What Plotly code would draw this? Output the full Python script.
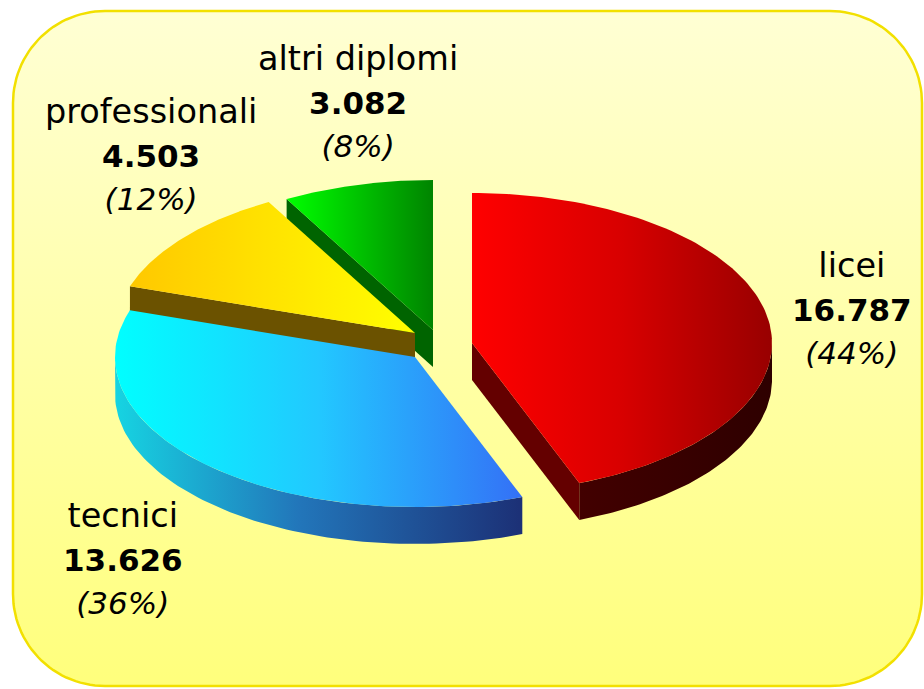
import numpy as np
import plotly.graph_objects as go

# ---------------- data ----------------
categories = ["licei", "tecnici", "professionali", "altri diplomi"]
values = [16787, 13626, 4503, 3082]

# ---------------- style ----------------
W, H = 924, 689
CX, CY = 415, 357          # base centre of the pie top face (px)
RX, RY = 300, 150          # ellipse radii (px)
DEPTH = 37                 # thickness of the pie (px)
EXPLODE = [(57, -14), (0, 0), (0, -24), (18, -27)]   # per-slice offsets (px)

TOP_SCALES = [
    [[0, "#ff0000"], [0.5, "#d80000"], [1, "#980000"]],
    [[0, "#00ffff"], [0.5, "#22c8ff"], [1, "#3470f6"]],
    [[0, "#ffc800"], [1, "#ffff00"]],
    [[0, "#00ff00"], [1, "#008400"]],
]
WALL_SCALES = [
    [[0, "#420000"], [1, "#2e0000"]],
    [[0, "#16d4e2"], [0.45, "#2276ba"], [1, "#1c3076"]],
    [[0, "#6b5200"], [1, "#6b5200"]],
    [[0, "#006400"], [1, "#006400"]],
]
RADIAL_COLORS = ["#640000", "#1c3076", "#6b5200", "#006400"]

LABEL_POS = [(852, 308), (123, 558), (151, 154), (358, 101)]
FONT = "DejaVu Sans"

# ---------------- geometry helpers ----------------
total = sum(values)
fracs = [v / total for v in values]
bounds = np.concatenate([[0], np.cumsum(fracs)]) * 360.0


def pt(c, ang):
    a = np.radians(ang)
    return c[0] + RX * np.sin(a), c[1] - RY * np.cos(a)


fig = go.Figure()

# background rounded panel
x0, y0, x1, y1, r = 13, 11, 922, 686, 92
bx, by = [], []
for (ccx, ccy, a_start) in [(x1 - r, y0 + r, -90), (x1 - r, y1 - r, 0),
                            (x0 + r, y1 - r, 90), (x0 + r, y0 + r, 180)]:
    t = np.radians(np.linspace(a_start, a_start + 90, 30))
    bx += list(ccx + r * np.cos(t))
    by += list(ccy + r * np.sin(t))
bx.append(bx[0]); by.append(by[0])
fig.add_trace(go.Scatter(
    x=bx, y=by, mode="lines", fill="toself",
    line=dict(color="#f2e000", width=2.5),
    fillgradient=dict(type="vertical", colorscale=[[0, "#ffffd4"], [1, "#ffff7c"]],
                      start=y0, stop=y1),
    hoverinfo="skip", showlegend=False))

# slices
slices = []
for i in range(len(values)):
    a0, a1 = bounds[i], bounds[i + 1]
    c = (CX + EXPLODE[i][0], CY + EXPLODE[i][1])
    mid = (a0 + a1) / 2
    key = c[1] - 0.5 * RY * np.cos(np.radians(mid))
    slices.append((key, i, a0, a1, c))
slices.sort()


def add_poly(xs, ys, scale=None, color=None):
    kw = {}
    if scale is not None:
        kw["fillgradient"] = dict(type="horizontal", colorscale=scale,
                                  start=min(xs), stop=max(xs))
    else:
        kw["fillcolor"] = color
    fig.add_trace(go.Scatter(x=list(xs), y=list(ys), mode="lines", fill="toself",
                             line=dict(width=0, color="rgba(0,0,0,0)"),
                             hoverinfo="skip", showlegend=False, **kw))


for key, i, a0, a1, c in slices:
    # outer wall (front half only)
    lo, hi = max(a0, 90), min(a1, 270)
    if hi > lo:
        t = np.linspace(lo, hi, 80)
        px, py = pt(c, t)
        xs = np.concatenate([px, px[::-1]])
        ys = np.concatenate([py, (py + DEPTH)[::-1]])
        add_poly(np.append(xs, xs[0]), np.append(ys, ys[0]), scale=WALL_SCALES[i])
    # radial walls facing the viewer
    for ang, normal in [(a0, a0 - 90), (a1, a1 + 90)]:
        if np.cos(np.radians(normal)) < -1e-6:
            ex, ey = pt(c, ang)
            xs = [c[0], ex, ex, c[0], c[0]]
            ys = [c[1], ey, ey + DEPTH, c[1] + DEPTH, c[1]]
            add_poly(xs, ys, color=RADIAL_COLORS[i])
    # top face
    t = np.linspace(a0, a1, 120)
    px, py = pt(c, t)
    xs = np.concatenate([[c[0]], px, [c[0]]])
    ys = np.concatenate([[c[1]], py, [c[1]]])
    add_poly(xs, ys, scale=TOP_SCALES[i])

# labels
for i, name in enumerate(categories):
    num = f"{values[i]:,}".replace(",", ".")
    pct = f"({round(fracs[i] * 100)}%)"
    txt = (f"{name}<br><b><span style='font-size:31px'>{num}</span></b>"
           f"<br><i><span style='font-size:31px'>{pct}</span></i>")
    fig.add_annotation(x=LABEL_POS[i][0], y=LABEL_POS[i][1], text=txt,
                       showarrow=False, xanchor="center", yanchor="middle",
                       align="center", font=dict(family=FONT, size=33.5, color="#000000"))

fig.update_xaxes(range=[0, W], visible=False, fixedrange=True)
fig.update_yaxes(range=[H, 0], visible=False, fixedrange=True)
fig.update_layout(width=W, height=H, margin=dict(l=0, r=0, t=0, b=0),
                  paper_bgcolor="#ffffff", plot_bgcolor="rgba(0,0,0,0)",
                  showlegend=False)

fig.write_html("out.html", config={"displayModeBar": False},
               post_script="document.body.style.margin='0';")
